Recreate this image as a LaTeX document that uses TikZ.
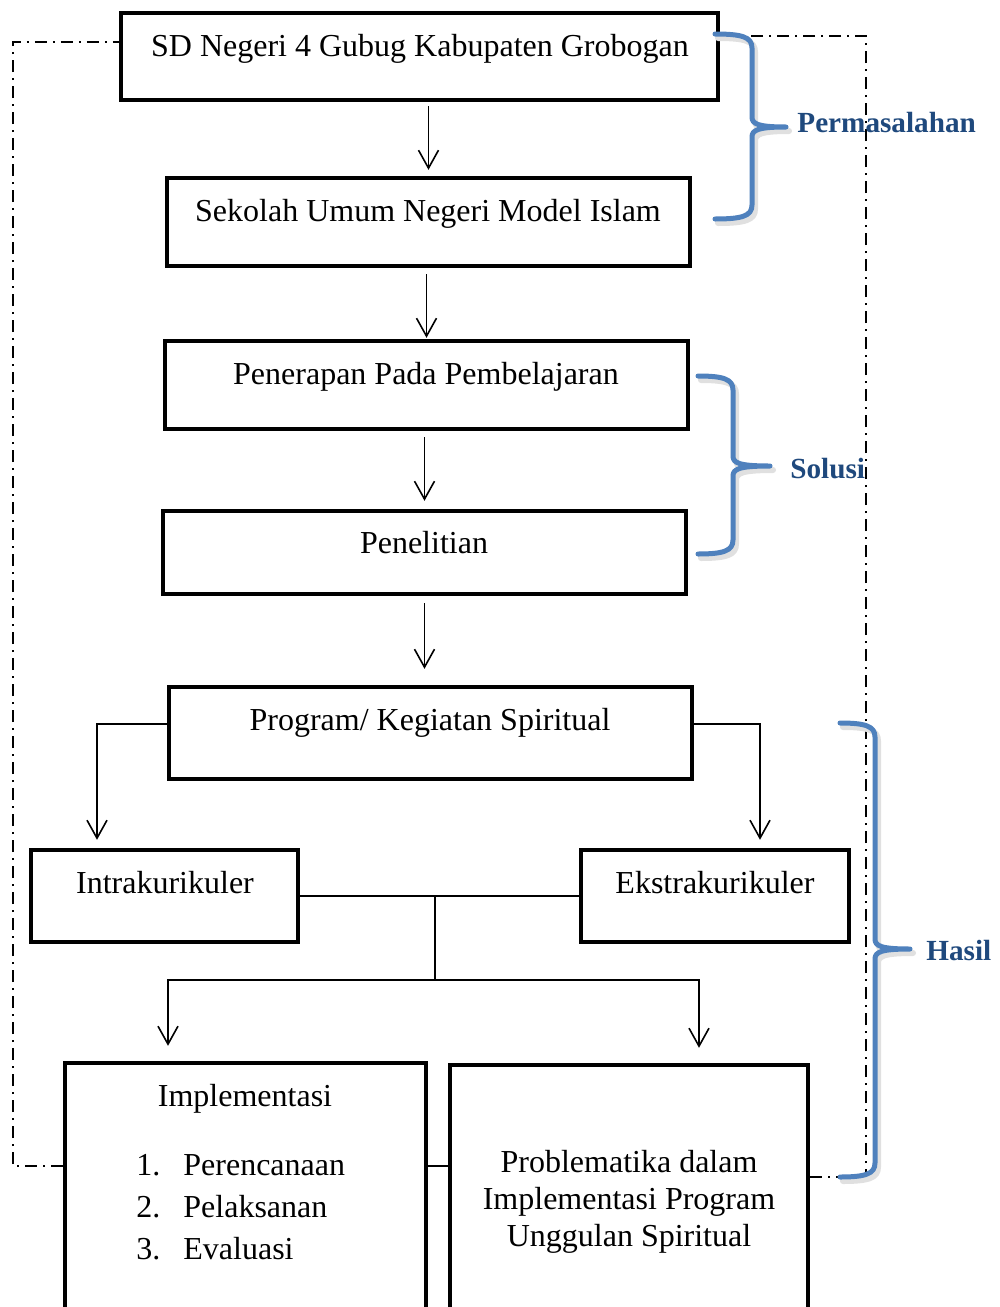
\documentclass[tikz,border=0pt]{standalone}
\usepackage{fontspec}
\setmainfont{Liberation Serif}
\usetikzlibrary{arrows.meta,fit,calc}
\definecolor{braceblue}{RGB}{79,129,189}
\definecolor{labelblue}{RGB}{31,73,125}
\newcommand\mybrace[7]{\draw[#7] (#1,#4) .. controls (#2-10,#4) and (#2,#4+3) .. (#2,#4+14) -- (#2,#5-10) .. controls (#2,#5-3) and (#2+6,#5) .. (#3,#5) .. controls (#2+6,#5) and (#2,#5+3) .. (#2,#5+10) -- (#2,#6-14) .. controls (#2,#6-3) and (#2-10,#6) .. (#1,#6);}
\begin{document}
\begin{tikzpicture}[x=0.5pt,y=-0.5pt,
 box/.style={draw, line width=2.2pt, inner sep=0pt},
 txt/.style={font=\fontsize{16}{18.5}\selectfont, inner sep=0pt},
 lbl/.style={font=\fontsize{14.6}{17}\selectfont\bfseries, text=labelblue, inner sep=0pt},
 arr/.style={-{Straight Barb[length=9pt,width=10pt]}, line width=0.8pt},
 conn/.style={line width=0.8pt},
 dd/.style={line width=0.8pt, dash pattern=on 6pt off 3pt on 1pt off 3pt},
 bracestyle/.style={draw=braceblue, line width=2.5pt, line cap=round, line join=round},
 braceshadow/.style={draw=black!12, line width=3pt, line cap=round, line join=round}]
\useasboundingbox (0,0) rectangle (1000,1307);
\clip (0,0) rectangle (1000,1307);
\fill[white] (0,0) rectangle (1000,1307);

% boxes
\node[box, fit={(121,13) (718,100)}] (b1) {};
\node[box, fit={(167,178) (690,266)}] (b2) {};
\node[box, fit={(165,341) (688,429)}] (b3) {};
\node[box, fit={(163,511) (686,594)}] (b4) {};
\node[box, fit={(169,687) (692,779)}] (b5) {};
\node[box, fit={(31,850) (298,942)}] (b6) {};
\node[box, fit={(581,850) (849,942)}] (b7) {};
\node[box, fit={(65,1063) (426,1330)}] (b8) {};
\node[box, fit={(450,1065) (808,1330)}] (b9) {};

% texts
\node[txt, anchor=base] (t1) at (420,56) {SD Negeri 4 Gubug Kabupaten Grobogan};
\node[txt, anchor=base] (t2) at (428,221) {Sekolah Umum Negeri Model Islam};
\node[txt, anchor=base] (t3) at (426,384) {Penerapan Pada Pembelajaran};
\node[txt, anchor=base] (t4) at (424,553) {Penelitian};
\node[txt, anchor=base] (t5) at (430,730) {Program/ Kegiatan Spiritual};
\node[txt, anchor=base] (t6) at (165,893) {Intrakurikuler};
\node[txt, anchor=base] (t7) at (715,893) {Ekstrakurikuler};
\node[txt, anchor=base] (t8) at (245,1106) {Implementasi};
\node[txt, anchor=base west] (n1) at (136,1175) {1.};
\node[txt, anchor=base west] (n2) at (136,1217) {2.};
\node[txt, anchor=base west] (n3) at (136,1259) {3.};
\node[txt, anchor=base west] (i1) at (183,1175) {Perencanaan};
\node[txt, anchor=base west] (i2) at (183,1217) {Pelaksanan};
\node[txt, anchor=base west] (i3) at (183,1259) {Evaluasi};
\node[txt, anchor=base] (p1) at (629,1172) {Problematika dalam};
\node[txt, anchor=base] (p2) at (629,1209) {Implementasi Program};
\node[txt, anchor=base] (p3) at (629,1246) {Unggulan Spiritual};

% vertical arrows
\draw[arr, shorten <=2pt, shorten >=3pt] (b2.north |- b1.south) -- (b2.north);
\draw[arr, shorten <=3pt, shorten >=0.5pt] (b3.north |- b2.south) -- (b3.north);
\draw[arr, shorten <=3pt, shorten >=4pt] (b4.north |- b3.south) -- (b4.north);
\draw[arr, shorten <=3.5pt, shorten >=8pt] (b4.south) -- (b4.south |- b5.north);

% program arms
\draw[arr] ([yshift=4.5pt]b5.west) -| ([xshift=-33.75pt,yshift=4pt]b6.north);
\draw[arr] ([yshift=4.5pt]b5.east) -| ([xshift=22.5pt,yshift=4pt]b7.north);

% intra - ekstra junction
\draw[conn] (b6.east) -- coordinate[pos=0.484] (jm) (b7.west);
\draw[conn] (jm) -- ++(0,84) coordinate (jb);
\draw[arr] (jb) -| ([xshift=-38.75pt,yshift=7.5pt]b8.north);
\draw[arr] (jb) -| ([xshift=35pt,yshift=7.5pt]b9.north);

% link between bottom boxes
\coordinate (L) at ([yshift=15.25pt]b8.east);
\draw[conn] (L) -- (L -| b9.west);

% dash-dot feedback lines
\draw[dd] ([yshift=15.25pt]b8.west) -- ++(-50,0) |- ([yshift=7.25pt]b1.west);
\draw[dd] ([yshift=10.25pt]b9.east) -- ++(56,0) |- ([yshift=10.25pt]b1.east);

% braces
\begin{scope}[shift={(3,4)}]
\mybrace{715}{752}{786}{34}{127}{219}{braceshadow}
\mybrace{698}{733}{770}{376}{466}{554}{braceshadow}
\mybrace{840}{875}{910}{723}{949}{1177}{braceshadow}
\end{scope}
\mybrace{715}{752}{786}{34}{127}{219}{bracestyle}
\mybrace{698}{733}{770}{376}{466}{554}{bracestyle}
\mybrace{840}{875}{910}{723}{949}{1177}{bracestyle}

% labels
\node[lbl, anchor=base west] (l1) at (797,132) {Permasalahan};
\node[lbl, anchor=base west] (l2) at (790,478) {Solusi};
\node[lbl, anchor=base west] (l3) at (926,960) {Hasil};
\end{tikzpicture}
\end{document}
